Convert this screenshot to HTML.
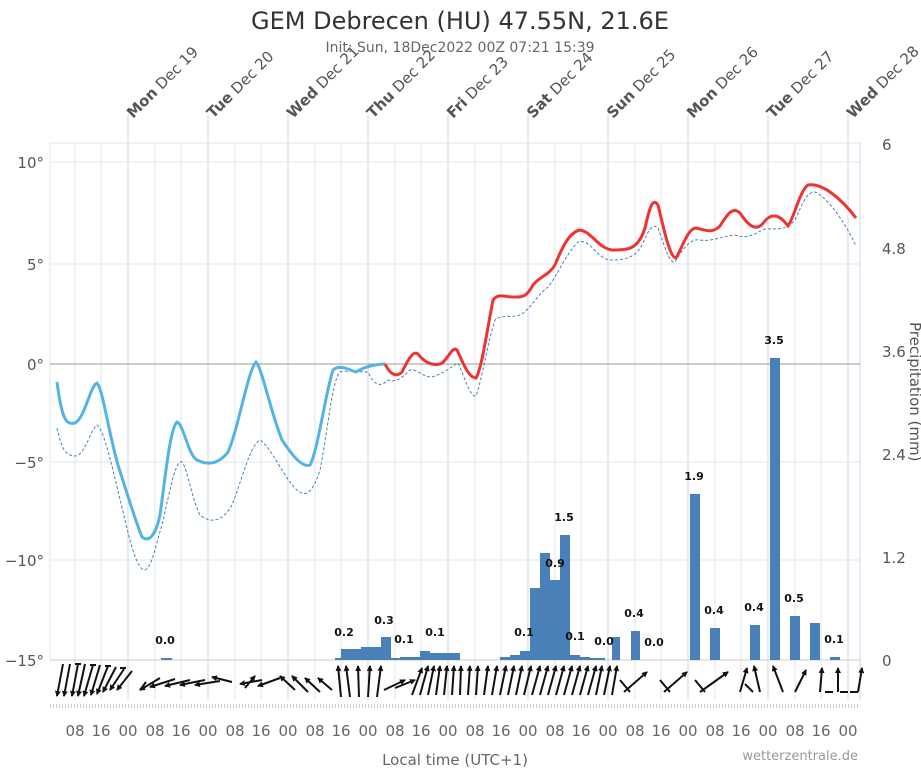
<!DOCTYPE html>
<html><head><meta charset="utf-8"><style>
body{margin:0;background:#fff;}
svg{display:block;font-family:"DejaVu Sans","Liberation Sans",sans-serif;}
</style></head><body>
<svg width="921" height="768" viewBox="0 0 921 768" xmlns="http://www.w3.org/2000/svg">
<defs><marker id="ah" markerWidth="6" markerHeight="6" refX="5" refY="3" orient="auto" markerUnits="userSpaceOnUse"><path d="M0,0 L6,3 L0,6 z" fill="#111"/></marker></defs>
<text x="460" y="29" text-anchor="middle" font-size="24" fill="#333">GEM Debrecen (HU) 47.55N, 21.6E</text>
<text x="460" y="52" text-anchor="middle" font-size="14" fill="#666">Init: Sun, 18Dec2022 00Z 07:21 15:39</text>
<rect x="50" y="143" width="810" height="517" fill="none" stroke="#e6e6e6"/>
<g stroke="#e6e6e6" stroke-width="1">
<line x1="50" y1="162" x2="860" y2="162"/><line x1="50" y1="264" x2="860" y2="264"/><line x1="50" y1="462" x2="860" y2="462"/><line x1="50" y1="560" x2="860" y2="560"/>
<line x1="75" y1="143" x2="75" y2="700"/><line x1="101" y1="143" x2="101" y2="700"/>
<line x1="155" y1="143" x2="155" y2="700"/><line x1="181" y1="143" x2="181" y2="700"/>
<line x1="235" y1="143" x2="235" y2="700"/><line x1="261" y1="143" x2="261" y2="700"/>
<line x1="315" y1="143" x2="315" y2="700"/><line x1="341" y1="143" x2="341" y2="700"/>
<line x1="395" y1="143" x2="395" y2="700"/><line x1="421" y1="143" x2="421" y2="700"/>
<line x1="475" y1="143" x2="475" y2="700"/><line x1="501" y1="143" x2="501" y2="700"/>
<line x1="555" y1="143" x2="555" y2="700"/><line x1="581" y1="143" x2="581" y2="700"/>
<line x1="635" y1="143" x2="635" y2="700"/><line x1="661" y1="143" x2="661" y2="700"/>
<line x1="715" y1="143" x2="715" y2="700"/><line x1="741" y1="143" x2="741" y2="700"/>
<line x1="795" y1="143" x2="795" y2="700"/><line x1="821" y1="143" x2="821" y2="700"/>
</g>
<g stroke="#ccd6eb" stroke-width="1">
<line x1="128" y1="115" x2="128" y2="700"/><line x1="208" y1="115" x2="208" y2="700"/><line x1="288" y1="115" x2="288" y2="700"/><line x1="368" y1="115" x2="368" y2="700"/><line x1="448" y1="115" x2="448" y2="700"/><line x1="528" y1="115" x2="528" y2="700"/><line x1="608" y1="115" x2="608" y2="700"/><line x1="688" y1="115" x2="688" y2="700"/><line x1="768" y1="115" x2="768" y2="700"/><line x1="848" y1="115" x2="848" y2="700"/><line x1="860" y1="143" x2="860" y2="700"/>
</g>
<line x1="50" y1="364" x2="860" y2="364" stroke="#999"/>
<line x1="50" y1="660" x2="860" y2="660" stroke="#ccc"/>
<g font-size="15" fill="#555">
<text transform="translate(133,119) rotate(-45)"><tspan font-weight="bold">Mon</tspan> Dec 19</text>
<text transform="translate(213,119) rotate(-45)"><tspan font-weight="bold">Tue</tspan> Dec 20</text>
<text transform="translate(293,119) rotate(-45)"><tspan font-weight="bold">Wed</tspan> Dec 21</text>
<text transform="translate(373,119) rotate(-45)"><tspan font-weight="bold">Thu</tspan> Dec 22</text>
<text transform="translate(453,119) rotate(-45)"><tspan font-weight="bold">Fri</tspan> Dec 23</text>
<text transform="translate(533,119) rotate(-45)"><tspan font-weight="bold">Sat</tspan> Dec 24</text>
<text transform="translate(613,119) rotate(-45)"><tspan font-weight="bold">Sun</tspan> Dec 25</text>
<text transform="translate(693,119) rotate(-45)"><tspan font-weight="bold">Mon</tspan> Dec 26</text>
<text transform="translate(773,119) rotate(-45)"><tspan font-weight="bold">Tue</tspan> Dec 27</text>
<text transform="translate(853,119) rotate(-45)"><tspan font-weight="bold">Wed</tspan> Dec 28</text>
</g>
<g font-size="15" fill="#555" text-anchor="end">
<text x="44" y="168">10°</text><text x="44" y="270">5°</text><text x="44" y="370">0°</text><text x="44" y="468">−5°</text><text x="44" y="566">−10°</text><text x="44" y="666">−15°</text>
</g>
<g font-size="15" fill="#555">
<text x="882" y="150">6</text><text x="882" y="254">4.8</text><text x="882" y="357">3.6</text><text x="882" y="460">2.4</text><text x="882" y="563">1.2</text><text x="882" y="666">0</text>
<text transform="translate(910,322) rotate(90)">Precipitation (mm)</text>
</g>
<g fill="#4a80b8">
<rect x="161" y="658" width="11" height="2"/>
<rect x="335" y="658" width="6" height="2"/><rect x="341" y="649" width="20" height="11"/><rect x="361" y="647" width="20" height="13"/><rect x="381" y="637" width="10" height="23"/><rect x="391" y="658" width="9" height="2"/><rect x="400" y="657" width="20" height="3"/><rect x="420" y="651" width="10" height="9"/><rect x="430" y="653" width="10" height="7"/><rect x="440" y="653" width="20" height="7"/>
<rect x="500" y="657" width="10" height="3"/><rect x="510" y="655" width="10" height="5"/><rect x="520" y="651" width="10" height="9"/><rect x="530" y="588" width="10" height="72"/><rect x="540" y="553" width="10" height="107"/><rect x="550" y="580" width="10" height="80"/><rect x="560" y="535" width="10" height="125"/><rect x="570" y="655" width="10" height="5"/><rect x="580" y="657" width="10" height="3"/><rect x="590" y="658" width="15" height="2"/>
<rect x="612" y="637" width="8" height="23"/><rect x="631" y="631" width="9" height="29"/><rect x="690" y="494" width="10" height="166"/><rect x="710" y="628" width="10" height="32"/><rect x="750" y="625" width="10" height="35"/><rect x="770" y="358" width="10" height="302"/><rect x="790" y="616" width="10" height="44"/><rect x="810" y="623" width="10" height="37"/><rect x="830" y="657" width="10" height="3"/>
</g>
<g font-size="11" font-weight="bold" fill="#111" text-anchor="middle">
<text x="165" y="644">0.0</text><text x="344" y="636">0.2</text><text x="384" y="624">0.3</text><text x="404" y="643">0.1</text><text x="435" y="636">0.1</text>
<text x="524" y="636">0.1</text><text x="555" y="567">0.9</text><text x="564" y="521">1.5</text><text x="575" y="640">0.1</text><text x="604" y="645">0.0</text><text x="634" y="617">0.4</text><text x="654" y="646">0.0</text>
<text x="694" y="480">1.9</text><text x="714" y="614">0.4</text><text x="754" y="611">0.4</text><text x="774" y="344">3.5</text><text x="794" y="602">0.5</text><text x="834" y="643">0.1</text>
</g>
<path fill="none" stroke="#4a80b8" stroke-width="1" stroke-dasharray="3,2" d="M57,428 C62,450 65,455 75,456 C85,456 90,430 97,425 C105,430 115,480 125,520 C132,550 138,570 145,570 C152,568 157,540 162,525 C170,490 176,458 182,462 C188,470 192,500 200,515 C210,523 222,523 232,505 C242,480 250,445 260,440 C270,445 285,480 297,490 C305,497 312,495 320,470 C328,430 332,380 340,372 C350,370 360,372 368,372 C374,385 380,388 388,380 C395,383 402,378 410,370 C416,368 424,378 432,377 C442,374 450,368 458,363 C464,375 470,398 476,396 C482,380 488,340 495,320 C502,314 512,318 520,315 C530,310 538,294 548,287 C558,275 565,255 578,242 C590,238 596,258 610,260 C625,260 635,258 642,245 C648,232 652,222 658,228 C664,245 670,265 675,262 C682,250 690,238 700,240 C712,242 722,236 735,235 C748,240 755,233 765,229 C775,228 785,232 795,220 C802,205 806,192 815,192 C828,198 845,222 856,246"/>
<path fill="none" stroke="#55b3e4" stroke-width="3" d="M57,382 C62,420 66,425 75,423 C85,418 90,386 97,383 C103,390 108,430 118,465 C126,490 135,520 142,537 C148,542 155,538 160,515 C165,480 170,428 177,422 C184,425 188,455 197,460 C207,465 218,465 228,452 C238,430 248,370 256,362 C262,368 270,410 282,440 C292,455 302,468 310,465 C318,450 325,395 333,370 C340,364 350,370 356,372 C364,367 375,364 385,364"/>
<path fill="none" stroke="#ee3333" stroke-width="3" d="M385,364 C390,374 396,378 402,372 C408,360 413,350 418,354 C424,362 432,366 440,364 C447,362 452,345 457,350 C462,360 468,378 476,378 C482,368 487,330 493,300 C498,293 505,297 512,297 C522,297 526,298 533,285 C540,276 548,276 555,265 C563,245 570,232 580,230 C592,232 598,248 612,250 C628,250 638,250 645,228 C650,205 653,198 658,205 C664,230 670,258 676,258 C682,248 688,228 696,228 C706,230 712,234 720,226 C727,215 732,206 740,213 C748,225 756,233 764,222 C772,212 780,215 788,226 C794,218 800,190 808,185 C822,183 840,197 856,218"/>
<g stroke="#111" stroke-width="2" marker-end="url(#ah)">
<line x1="63" y1="664" x2="57" y2="696"/><line x1="70" y1="664" x2="64" y2="696"/><line x1="78" y1="664" x2="72" y2="696"/><line x1="85" y1="664" x2="78" y2="696"/><line x1="93" y1="665" x2="84" y2="696"/><line x1="100" y1="665" x2="91" y2="695"/><line x1="108" y1="666" x2="97" y2="694"/><line x1="116" y1="667" x2="103" y2="692"/><line x1="124" y1="669" x2="110" y2="690"/><line x1="132" y1="671" x2="117" y2="690"/>
<line x1="160" y1="678" x2="140" y2="690"/><line x1="175" y1="679" x2="150" y2="687"/><line x1="190" y1="680" x2="165" y2="686"/><line x1="205" y1="680" x2="180" y2="685"/><line x1="220" y1="681" x2="195" y2="685"/><line x1="232" y1="682" x2="212" y2="677"/><line x1="245" y1="688" x2="255" y2="676"/><line x1="262" y1="680" x2="240" y2="684"/><line x1="280" y1="678" x2="258" y2="686"/><line x1="295" y1="690" x2="280" y2="676"/><line x1="308" y1="692" x2="292" y2="676"/><line x1="320" y1="692" x2="305" y2="678"/><line x1="332" y1="690" x2="318" y2="678"/>
<line x1="341" y1="697" x2="338" y2="666"/><line x1="350" y1="697" x2="346" y2="666"/><line x1="359" y1="697" x2="358" y2="666"/><line x1="368" y1="697" x2="370" y2="666"/><line x1="377" y1="697" x2="381" y2="666"/><line x1="384" y1="690" x2="405" y2="680"/><line x1="395" y1="688" x2="415" y2="680"/>
<line x1="412" y1="695" x2="422" y2="668"/><line x1="420" y1="695" x2="428" y2="666"/><line x1="428" y1="695" x2="434" y2="666"/><line x1="436" y1="695" x2="440" y2="666"/><line x1="444" y1="695" x2="447" y2="666"/><line x1="452" y1="695" x2="454" y2="666"/><line x1="460" y1="695" x2="461" y2="666"/><line x1="468" y1="695" x2="470" y2="666"/><line x1="476" y1="695" x2="478" y2="666"/><line x1="484" y1="695" x2="488" y2="666"/><line x1="492" y1="695" x2="497" y2="666"/><line x1="500" y1="695" x2="506" y2="666"/><line x1="508" y1="695" x2="514" y2="666"/><line x1="516" y1="695" x2="522" y2="666"/><line x1="524" y1="695" x2="531" y2="666"/><line x1="532" y1="695" x2="540" y2="666"/><line x1="540" y1="695" x2="548" y2="666"/><line x1="548" y1="695" x2="556" y2="666"/><line x1="556" y1="695" x2="564" y2="666"/><line x1="564" y1="695" x2="572" y2="666"/><line x1="572" y1="695" x2="580" y2="666"/><line x1="580" y1="695" x2="588" y2="666"/><line x1="588" y1="695" x2="596" y2="666"/><line x1="596" y1="695" x2="602" y2="666"/><line x1="604" y1="695" x2="610" y2="666"/><line x1="612" y1="695" x2="617" y2="666"/>
<line x1="624" y1="692" x2="647" y2="672"/><line x1="664" y1="692" x2="687" y2="672"/><line x1="700" y1="692" x2="728" y2="672"/><line x1="740" y1="692" x2="747" y2="668"/><line x1="760" y1="692" x2="754" y2="666"/><line x1="783" y1="692" x2="773" y2="666"/><line x1="795" y1="692" x2="806" y2="670"/><line x1="820" y1="692" x2="822" y2="668"/><line x1="838" y1="692" x2="838" y2="668"/><line x1="858" y1="692" x2="862" y2="668"/>
</g>
<g stroke="#111" stroke-width="2" fill="none">
<path d="M75,664 h6 M90,665 h6 M105,666 h6 M120,668 h6 M140,690 l6,-8 M620,680 l10,12 M660,680 l10,12 M695,680 l10,12 M745,684 l8,8 M825,692 h8 M840,692 h8 M850,692 h8"/>
</g>
<line x1="50" y1="706" x2="860" y2="706" stroke="#ccc" stroke-width="4" stroke-dasharray="1,2"/>
<g font-size="15" fill="#666" text-anchor="middle">
<text x="75" y="736">08</text><text x="101" y="736">16</text><text x="128" y="736">00</text><text x="155" y="736">08</text><text x="181" y="736">16</text><text x="208" y="736">00</text><text x="235" y="736">08</text><text x="261" y="736">16</text><text x="288" y="736">00</text><text x="315" y="736">08</text><text x="341" y="736">16</text><text x="368" y="736">00</text><text x="395" y="736">08</text><text x="421" y="736">16</text><text x="448" y="736">00</text><text x="475" y="736">08</text><text x="501" y="736">16</text><text x="528" y="736">00</text><text x="555" y="736">08</text><text x="581" y="736">16</text><text x="608" y="736">00</text><text x="635" y="736">08</text><text x="661" y="736">16</text><text x="688" y="736">00</text><text x="715" y="736">08</text><text x="741" y="736">16</text><text x="768" y="736">00</text><text x="795" y="736">08</text><text x="821" y="736">16</text><text x="848" y="736">00</text>
<text x="455" y="765">Local time (UTC+1)</text>
</g>
<text x="858" y="760" text-anchor="end" font-size="13" fill="#999">wetterzentrale.de</text>
</svg>
</body></html>
